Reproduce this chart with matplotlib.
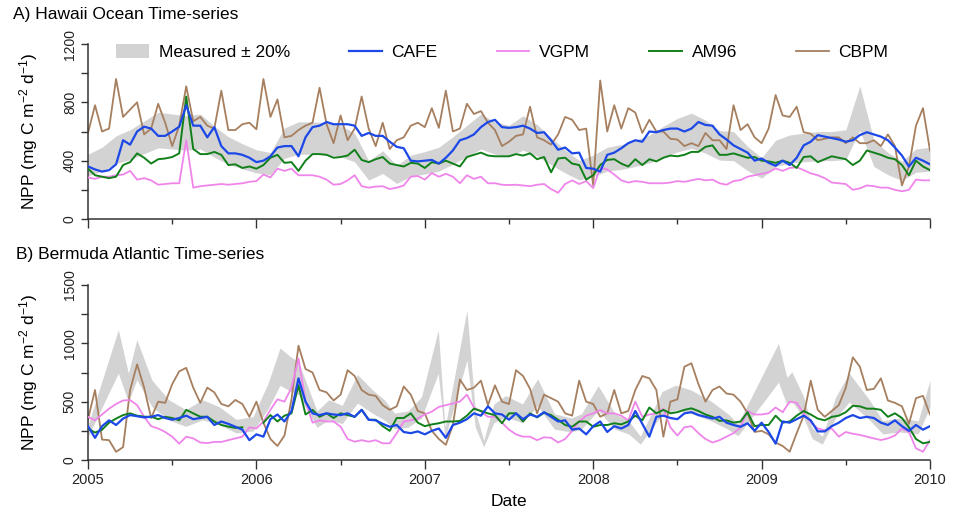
import numpy as np
import matplotlib
matplotlib.use("Agg")
import matplotlib.pyplot as plt
from matplotlib.patches import Patch
from matplotlib.lines import Line2D
from matplotlib.ticker import MultipleLocator

plt.rcParams['font.family'] = ['Liberation Sans', 'DejaVu Sans']
plt.rcParams['mathtext.fontset'] = 'custom'
plt.rcParams['mathtext.rm'] = 'Liberation Sans'
plt.rcParams['mathtext.it'] = 'Liberation Sans:italic'

# model output, semi-monthly, 2005.0 .. 2010.0
model_t = 2005 + np.arange(121) / 24.0

hot_cafe = [360, 340, 325, 335, 375, 540, 510, 600, 633, 620,
            570, 570, 600, 633, 780, 640, 640, 560, 630, 500,
            450, 450, 440, 420, 390, 400, 430, 490, 500, 500,
            430, 560, 630, 640, 665, 650, 650, 650, 640, 570,
            590, 570, 570, 530, 495, 485, 400, 395, 400, 405,
            380, 420, 470, 540, 555, 580, 630, 665, 680, 630,
            625, 630, 640, 620, 590, 595, 540, 475, 490, 450,
            455, 350, 345, 325, 440, 455, 485, 520, 540, 530,
            600, 595, 610, 620, 620, 600, 620, 665, 645, 640,
            580, 545, 505, 480, 455, 400, 415, 385, 365, 400,
            370, 420, 505, 530, 575, 565, 555, 545, 530, 540,
            575, 595, 580, 565, 540, 490, 435, 360, 420, 400,
            375]
hot_vgpm = [285, 275, 290, 290, 300, 305, 330, 270, 280, 265,
            235, 240, 245, 245, 540, 215, 225, 230, 235, 240,
            235, 240, 245, 255, 260, 305, 285, 345, 330, 345,
            300, 300, 300, 290, 270, 235, 240, 265, 300, 225,
            215, 222, 225, 205, 215, 230, 290, 295, 270, 315,
            290, 310, 290, 245, 300, 275, 290, 245, 245, 235,
            233, 235, 230, 225, 235, 240, 205, 180, 240, 265,
            240, 260, 212, 350, 340, 305, 265, 250, 260, 255,
            245, 245, 245, 250, 260, 255, 265, 275, 265, 270,
            245, 235, 260, 267, 290, 300, 310, 320, 347, 330,
            350, 355, 335, 313, 300, 280, 250, 245, 240, 200,
            210, 230, 225, 215, 215, 200, 190, 200, 270, 265,
            265]
hot_am96 = [345, 300, 290, 280, 290, 370, 390, 450, 420, 380,
            410, 415, 425, 450, 840, 480, 445, 445, 460, 440,
            370, 375, 350, 360, 345, 370, 420, 440, 385, 390,
            330, 400, 445, 445, 440, 420, 425, 435, 475, 405,
            390, 410, 425, 380, 370, 360, 385, 380, 350, 390,
            380, 400, 380, 360, 425, 440, 455, 435, 430, 430,
            430, 445, 435, 450, 410, 425, 320, 415, 420, 380,
            370, 270, 300, 370, 405, 410, 380, 360, 410, 370,
            410, 395, 420, 435, 430, 440, 460, 460, 495, 505,
            440, 440, 450, 435, 420, 425, 400, 395, 385, 400,
            385, 350, 425, 430, 390, 410, 430, 420, 410, 370,
            400, 470, 455, 440, 420, 410, 370, 300, 400, 360,
            335]
hot_cbpm = [590, 780, 600, 620, 960, 700, 750, 800, 580, 620,
            790, 660, 500, 640, 910, 670, 700, 640, 620, 880,
            610, 610, 650, 660, 615, 960, 700, 820, 560, 570,
            610, 640, 660, 900, 650, 520, 710, 540, 620, 840,
            620, 500, 660, 480, 540, 560, 640, 660, 630, 760,
            625, 880, 600, 620, 790, 720, 740, 660, 610, 500,
            530, 570, 580, 770, 560, 540, 510, 580, 700, 680,
            610, 620, 230, 950, 600, 780, 620, 760, 730, 590,
            680, 600, 600, 550, 545, 500, 520, 500, 590, 540,
            540, 480, 780, 610, 650, 560, 520, 620, 850, 710,
            700, 770, 595, 585, 540, 550, 560, 560, 520, 560,
            520, 520, 540, 500, 580, 500, 230, 360, 640, 760,
            470]

bats_cafe = [290, 190, 290, 340, 300, 355, 385, 375, 365, 370,
             385, 360, 345, 360, 380, 350, 360, 370, 300, 330,
             310, 285, 260, 170, 220, 200, 350, 390, 330, 420,
             700, 500, 400, 385, 400, 390, 385, 400, 370, 430,
             345, 340, 310, 285, 300, 240, 230, 245, 220, 250,
             270, 190, 300, 320, 350, 400, 380, 460, 400, 390,
             345, 400, 350, 390, 370, 410, 370, 330, 340, 260,
             270, 220, 290, 330, 240, 290, 270, 300, 420, 310,
             200, 370, 380, 360, 350, 400, 410, 385, 370, 355,
             370, 320, 300, 285, 315, 250, 320, 240, 140, 330,
             320, 350, 380, 340, 245, 245, 290, 320, 360, 385,
             360, 370, 360, 320, 300, 340, 290, 250, 300, 260,
             290]
bats_vgpm = [370, 340, 390, 440, 480, 510, 514, 470, 370, 290,
             270, 240, 200, 140, 200, 185, 150, 145, 155, 155,
             170, 185, 200, 280, 270, 330, 430, 520, 500, 620,
             870, 500, 320, 340, 330, 330, 286, 180, 157, 170,
             157, 170, 143, 143, 230, 330, 340, 355, 390, 415,
             455, 470, 485, 500, 560, 450, 415, 370, 371, 320,
             260, 220, 200, 200, 170, 195, 190, 150, 180, 250,
             330, 380, 400, 428, 400, 400, 380, 340, 500, 370,
             390, 400, 440, 280, 210, 280, 290, 230, 180, 150,
             170, 200, 230, 280, 420, 390, 390, 400, 450, 410,
             500, 490, 400, 325, 270, 255, 270, 200, 240, 225,
             215, 200, 185, 171, 185, 210, 270, 240, 100, 71,
             170]
bats_am96 = [270, 235, 260, 320, 355, 385, 400, 380, 371, 371,
             350, 370, 360, 340, 430, 400, 371, 371, 330, 300,
             286, 275, 280, np.nan, np.nan, 320, 385, 330, 380, 400,
             640, 390, 430, 370, 400, 360, 400, 385, 370, 430,
             345, 345, 290, 250, 360, 360, 400, 320, 290, 305,
             315, 330, 330, 335, 380, 440, 420, 400, 385, 315,
             400, 400, 330, 400, 365, 405, 385, 345, 300, 285,
             330, 330, 285, 300, 300, 315, 305, 330, 380, 340,
             450, 400, 430, 400, 410, 430, 443, 420, 390, 370,
             335, 340, 320, 330, 410, 290, 300, 300, 380, 320,
             330, 380, 420, 390, 355, 340, 370, 380, 410, 465,
             460, 440, 440, 430, 370, 400, 360, 280, 180, 143,
             155]
bats_cbpm = [350, 600, 175, 170, 70, 110, 600, 820, 620, 360,
             500, 490, 650, 760, 790, 620, 490, 620, 580, 480,
             460, 515, 480, 370, 500, 320, 180, 120, 210, 520,
             980, 780, 750, 600, 580, 510, 560, 770, 720, 600,
             560, 550, 470, 430, 460, 630, 560, 420, 400, 250,
             180, 130, 300, 690, 600, 620, 680, 470, 640, 500,
             480, 770, 720, 610, 400, 560, 530, 500, 400, 380,
             680, 500, 480, 371, 400, 600, 400, 420, 600, 720,
             700, 600, 200, 500, 520, 800, 829, 650, 500, 600,
             630, 570, 560, 500, 400, 240, 250, 220, 150, 120,
             71, 230, 380, 680, 430, 370, 420, 470, 620, 880,
             800, 600, 610, 700, 510, 490, 460, 310, 530, 550,
             390]

# measured NPP (band is measured +/- 20 %)
hot_meas_t = 2005 + np.arange(61) / 12.0
hot_meas = [370, 410, 475, 510, 560, 610, 600, 590, 600, 530,
            470, 430, 395, 380, 520, 555, 555, 550, 535, 490,
            333, 390, 305, 365, 385, 410, 470, 535, 600, 555,
            535, 590, 540, 465, 395, 335, 365, 410, 425, 450,
            480, 530, 575, 605, 565, 505, 500, 415, 350, 450,
            480, 490, 500, 500, 510, 760, 450, 380, 330, 400,
            410]

bats_meas_t = [2005.00, 2005.18, 2005.24, 2005.29, 2005.38, 2005.48, 2005.58,
               2005.68, 2005.78, 2005.88, 2005.98, 2006.07, 2006.14, 2006.20,
               2006.25, 2006.36, 2006.43, 2006.51, 2006.60, 2006.69, 2006.76,
               2006.82, 2006.90, 2006.98, 2007.08, 2007.12, 2007.25, 2007.30,
               2007.35, 2007.41, 2007.48, 2007.58, 2007.67, 2007.77, 2007.87,
               2007.93, 2008.03, 2008.13, 2008.21, 2008.28, 2008.41, 2008.49,
               2008.58, 2008.70, 2008.80, 2008.86, 2009.10, 2009.15, 2009.18,
               2009.25, 2009.30, 2009.36, 2009.44, 2009.52, 2009.64, 2009.72,
               2009.82, 2009.93, 2010.00]
bats_meas = [250, 930, 620, 860, 570, 430, 360,
             430, 380, 290, 310, 550, 800, 740,
             700, 350, 430, 390, 610, 500, 430,
             335, 350, 450, 930, 230, 1070, 350,
             140, 400, 460, 400, 580, 330, 300,
             330, 530, 330, 280, 170, 490, 535,
             500, 420, 330, 260, 833, 590, 630,
             450, 230, 170, 450, 620, 430, 280,
             300, 280, 570]

c_band = '#d3d3d3'
c_cafe = '#1c48e8'
c_vgpm = '#ef85ea'
c_am96 = '#11801a'
c_cbpm = '#a67f5f'
c_axis = '#333333'

W, H = 956, 512
fig = plt.figure(figsize=(W / 100, H / 100), dpi=100)
axA = fig.add_axes([88 / W, 1 - 219 / H, 842 / W, 175 / H])
axB = fig.add_axes([88 / W, 1 - 460 / H, 842 / W, 175 / H])


def draw_panel(ax, mt, meas, cafe, vgpm, am96, cbpm):
    meas = np.array(meas, dtype=float)
    ax.fill_between(mt, meas * 0.8, meas * 1.2, color=c_band, lw=0, zorder=1)
    ax.plot(model_t, cbpm, color=c_cbpm, lw=1.3, zorder=2)
    ax.plot(model_t, vgpm, color=c_vgpm, lw=1.3, zorder=3)
    ax.plot(model_t, am96, color=c_am96, lw=1.4, zorder=4)
    ax.plot(model_t, cafe, color=c_cafe, lw=1.6, zorder=5)


def style_axis(ax, ymax, ystep):
    ax.set_xlim(2005, 2010)
    ax.set_ylim(0, ymax)
    for s in ['top', 'right']:
        ax.spines[s].set_visible(False)
    for s in ['left', 'bottom']:
        ax.spines[s].set_color(c_axis)
        ax.spines[s].set_linewidth(1.1)
    yt = np.arange(0, ymax + 1, ystep)
    ax.set_yticks(yt)
    ax.set_yticklabels([str(int(v)) if i % 2 == 0 else '' for i, v in enumerate(yt)])
    ax.tick_params(axis='y', length=5, width=1.0, color=c_axis, pad=3,
                   labelsize=10, labelrotation=90, labelcolor='#222222')
    for lab in ax.get_yticklabels():
        lab.set_va('center')
    ax.xaxis.set_major_locator(MultipleLocator(1))
    ax.xaxis.set_minor_locator(MultipleLocator(0.5))
    ax.tick_params(axis='x', which='major', length=6.5, width=1.0, color=c_axis,
                   labelsize=10.5, pad=3, labelcolor='#222222')
    ax.tick_params(axis='x', which='minor', length=3.5, width=1.0, color=c_axis)


draw_panel(axA, hot_meas_t, hot_meas, hot_cafe, hot_vgpm, hot_am96, hot_cbpm)
draw_panel(axB, bats_meas_t, bats_meas, bats_cafe, bats_vgpm, bats_am96, bats_cbpm)
style_axis(axA, 1200, 200)
style_axis(axB, 1500, 250)
axA.tick_params(axis='x', which='major', labelbottom=False)
axB.set_xticks(range(2005, 2011))
axB.set_xticklabels([str(y) for y in range(2005, 2011)])

ylab = 'NPP (mg C m$^{-2}$ d$^{-1}$)'
fig.text(29 / W, 1 - 131 / H, ylab, rotation=90, ha='center', va='center', fontsize=12.5)
fig.text(29 / W, 1 - 372 / H, ylab, rotation=90, ha='center', va='center', fontsize=12.5)
fig.text(13 / W, 1 - 15 / H, 'A) Hawaii Ocean Time-series', ha='left', va='center', fontsize=12.5)
fig.text(16 / W, 1 - 255 / H, 'B) Bermuda Atlantic Time-series', ha='left', va='center', fontsize=12.5)
fig.text(509 / W, 1 - 501 / H, 'Date', ha='center', va='center', fontsize=12.5)

handles = [Patch(facecolor=c_band, edgecolor='none'),
           Line2D([], [], color=c_cafe, lw=1.6),
           Line2D([], [], color=c_vgpm, lw=1.3),
           Line2D([], [], color=c_am96, lw=1.4),
           Line2D([], [], color=c_cbpm, lw=1.3)]
labels = ['Measured \u00b1 20%', 'CAFE', 'VGPM', 'AM96', 'CBPM']
axA.legend(handles, labels, ncol=5, frameon=False, loc='center left',
           bbox_to_anchor=(116 / W, 1 - 52 / H), bbox_transform=fig.transFigure,
           borderaxespad=0, borderpad=0, fontsize=12.5, handlelength=1.9,
           handleheight=0.9, handletextpad=0.55, columnspacing=3.4)

fig.savefig('out.png', dpi=100)
